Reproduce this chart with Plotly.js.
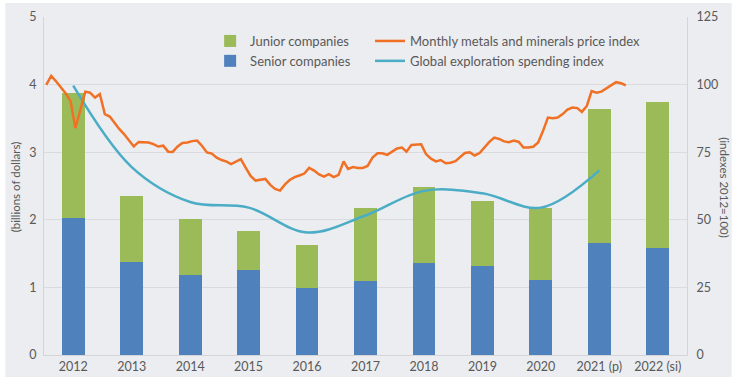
<!DOCTYPE html>
<html>
<head>
<meta charset="utf-8">
<script src="https://cdn.plot.ly/plotly-3.0.1.min.js"></script>
<style>html,body{margin:0;padding:0;background:#fff;}#chart{width:740px;height:383px;}</style>
</head>
<body>
<div id="chart"></div>
<script>
// Annual categories
const years = ['2012','2013','2014','2015','2016','2017','2018','2019','2020','2021 (p)','2022 (si)'];
// Billions of dollars
const seniorCompanies = [2.02,1.38,1.19,1.26,0.99,1.10,1.36,1.32,1.11,1.65,1.58];
const juniorCompanies = [1.85,0.97,0.82,0.57,0.63,1.07,1.12,0.96,1.07,1.99,2.16];
// Global exploration spending index (2012=100), 2012 to 2021
const explorationYears = ['2012','2013','2014','2015','2016','2017','2018','2019','2020','2021 (p)'];
const explorationIndex = [99.6,69.5,56.6,54.5,45.3,51.6,60.7,59.8,54.5,68.3];
// Monthly metals and minerals price index, Jan 2012 to Dec 2021
const priceIndex = [
  99.9,103.2,101.3,99.1,96.8,93.9,83.9,90.6,97.4,97.0,95.2,96.5,
  89.1,88.2,86.0,83.6,81.7,79.5,77.1,78.8,78.6,78.6,78.0,77.1,
  77.4,75.2,75.1,77.1,78.4,78.6,79.1,79.3,77.3,74.9,74.5,73.0,
  72.1,71.5,70.6,71.4,72.4,69.2,66.2,64.5,64.9,65.1,62.9,61.4,
  60.8,63.1,64.7,65.8,66.4,67.1,69.2,68.2,66.8,66.0,66.9,65.8,
  66.6,71.6,68.8,69.5,69.2,69.2,69.9,73.0,74.6,74.6,74.0,75.1,
  76.4,76.7,75.2,77.7,77.8,77.9,74.3,72.6,71.6,72.1,70.9,71.1,
  71.7,73.2,74.7,75.0,73.8,74.7,76.7,78.8,80.4,79.9,79.0,78.7,
  79.3,78.8,76.7,76.7,77.0,78.6,82.8,87.8,87.6,87.8,89.1,90.8,
  91.5,91.3,89.9,92.1,97.6,97.0,97.4,98.6,99.9,100.9,100.5,99.7
];
const firstYear = 2012;
const months = priceIndex.map((v,i) => {
  const y = firstYear + Math.floor(i/12);
  const m = (i % 12) + 1;
  return y + '-' + (m < 10 ? '0' + m : m) + '-15';
});

const FONT = 'Lato, "Liberation Sans", sans-serif';
const TXT = '#595959';
const BG = '#ebedf0';

const traces = [
  {type:'bar', name:'Senior companies', x:years, y:seniorCompanies, marker:{color:'#4f81bd'}, xaxis:'x', yaxis:'y', legend:'legend', hoverinfo:'skip'},
  {type:'bar', name:'Junior companies', x:years, y:juniorCompanies, marker:{color:'#9bbb59'}, xaxis:'x', yaxis:'y', legend:'legend', hoverinfo:'skip'},
  {type:'scatter', mode:'lines', name:'Monthly metals and minerals price index', x:months, y:priceIndex, line:{color:'#f07125', width:2.5}, xaxis:'x2', yaxis:'y2', legend:'legend2', hoverinfo:'skip'},
  {type:'scatter', mode:'lines', name:'Global exploration spending index', x:explorationYears, y:explorationIndex, line:{color:'#4bacc6', width:2.5, shape:'spline', smoothing:1}, xaxis:'x', yaxis:'y2', legend:'legend2', hoverinfo:'skip'}
];

const W = 643.5, H = 338, L = 43.75, T = 17;
const px = v => (v - L) / W;
const py = v => (T + H - v) / H;

const layout = {
  width:740, height:383,
  margin:{l:44, r:53, t:17, b:28, pad:0},
  paper_bgcolor:'#ffffff',
  plot_bgcolor:'rgba(0,0,0,0)',
  font:{family:FONT, color:TXT, size:12},
  barmode:'stack',
  bargap:0.61,
  showlegend:true,
  shapes:[
    {type:'rect', xref:'paper', yref:'paper', x0:px(5), x1:px(732), y0:py(377), y1:py(3), fillcolor:BG, line:{width:0}, layer:'below'}
  ],
  xaxis:{type:'category', range:[-0.5,10.5], showgrid:false, showline:true, linecolor:'#d3d5d8', linewidth:1, ticks:'', tickfont:{size:12.5, color:TXT}, fixedrange:true, zeroline:false},
  xaxis2:{type:'date', overlaying:'x', range:['2012-01-01','2023-01-01'], visible:false, fixedrange:true},
  yaxis:{range:[0,5], dtick:1, tick0:0, showgrid:true, gridcolor:'#d9dbde', gridwidth:1, showline:true, linecolor:'#d3d5d8', ticks:'', tickfont:{size:12.5, color:TXT}, zeroline:false, fixedrange:true, ticklabelstandoff:4},
  yaxis2:{range:[0,125], dtick:25, tick0:0, overlaying:'y', side:'right', showgrid:false, showline:true, linecolor:'#d3d5d8', ticks:'', tickfont:{size:12.5, color:TXT}, zeroline:false, fixedrange:true, ticklabelstandoff:6},
  legend:{x:px(210), y:py(26), xanchor:'left', yanchor:'top', bgcolor:'rgba(0,0,0,0)', borderwidth:0, font:{size:13, color:TXT, family:FONT}, traceorder:'reversed', tracegroupgap:0},
  legend2:{x:px(370), y:py(26), xanchor:'left', yanchor:'top', bgcolor:'rgba(0,0,0,0)', borderwidth:0, font:{size:13, color:TXT, family:FONT}, traceorder:'normal', tracegroupgap:0},
  annotations:[
    {text:'(billions of dollars)', xref:'paper', yref:'paper', x:px(15), y:py(187), textangle:-90, showarrow:false, xanchor:'center', yanchor:'middle', font:{size:11.5, color:TXT, family:FONT}},
    {text:'(indexes 2012=100)', xref:'paper', yref:'paper', x:px(725), y:py(188), textangle:90, showarrow:false, xanchor:'center', yanchor:'middle', font:{size:11.5, color:TXT, family:FONT}}
  ]
};

Plotly.newPlot('chart', traces, layout, {displayModeBar:false, staticPlot:true});
</script>
</body>
</html>
